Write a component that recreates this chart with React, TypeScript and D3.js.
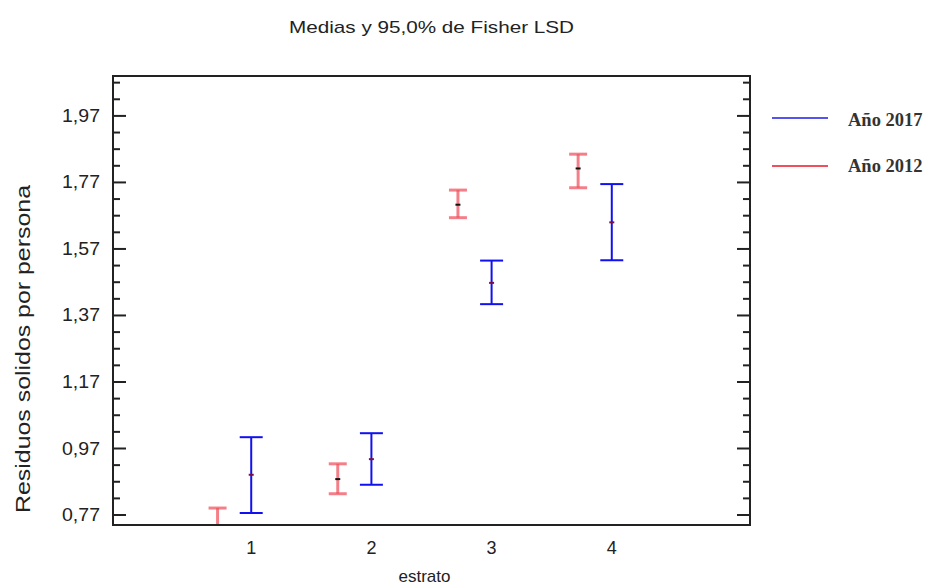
import * as React from 'react';
import * as d3 from 'd3';

// chart size
const W = 931
const H = 587
const margin = {top: 76, right: 181, bottom: 62, left: 113}

// groups on the x axis
const strata = [1, 2, 3, 4]

// Año 2017 (blue): means and LSD interval ends
const mean2017 = [0.891, 0.938, 1.468, 1.650]
const lower2017 = [0.776, 0.861, 1.404, 1.536]
const upper2017 = [1.004, 1.016, 1.535, 1.765]

// Año 2012 (red)
const mean2012 = [0.738, 0.878, 1.703, 1.812]
const lower2012 = [0.686, 0.834, 1.664, 1.754]
const upper2012 = [0.791, 0.924, 1.747, 1.855]

// axis ticks
const yMajor = [0.77, 0.97, 1.17, 1.37, 1.57, 1.77, 1.97]
const yMinor = d3.range(0.77, 2.09, 0.05)
const xDomain = [-0.15, 5.15]
const yDomain = [0.74, 2.09]

type Bar = { x: number, mean: number, lo: number, hi: number }

const makeBars = (means: number[], lo: number[], hi: number[], shift: number): Bar[] =>
    strata.map((s, i) => ({x: s + shift, mean: means[i], lo: lo[i], hi: hi[i]}))

const bars2017 = makeBars(mean2017, lower2017, upper2017, 0)
const bars2012 = makeBars(mean2012, lower2012, upper2012, -0.28)

const fmt = (v: number) => v.toFixed(2).replace('.', ',')

export default function App() {
    const x0 = margin.left, x1 = W - margin.right
    const y0 = H - margin.bottom, y1 = margin.top

    const x = d3.scaleLinear().domain(xDomain).range([x0, x1])
    const y = d3.scaleLinear().domain(yDomain).range([y0, y1])

    const sans = '"Liberation Sans", Arial, sans-serif'
    const serif = '"Liberation Serif", "Times New Roman", serif'

    const isMajor = (v: number) => yMajor.some(m => Math.abs(m - v) < 1e-6)

    const errorBar = (b: Bar, i: number, color: string, width: number, cap: number, opacity: number, dot: string) => (
        <g key={i}>
            <g stroke={color} strokeWidth={width} strokeOpacity={opacity} fill="none">
                <line x1={x(b.x)} x2={x(b.x)} y1={y(b.lo)} y2={y(b.hi)} />
                <line x1={x(b.x) - cap / 2} x2={x(b.x) + cap / 2} y1={y(b.hi)} y2={y(b.hi)} />
                <line x1={x(b.x) - cap / 2} x2={x(b.x) + cap / 2} y1={y(b.lo)} y2={y(b.lo)} />
            </g>
            <line x1={x(b.x) - 2.5} x2={x(b.x) + 2.5} y1={y(b.mean)} y2={y(b.mean)} stroke={dot} strokeWidth={2} />
        </g>
    )

    return (
        <svg width={W} height={H} style={{position: 'absolute', left: 0, top: 0, background: '#fff'}}>
            <defs>
                <clipPath id="plot">
                    <rect x={x0} y={y1} width={x1 - x0} height={y0 - y1} />
                </clipPath>
            </defs>

            {/* title */}
            <text x={(x0 + x1) / 2} y={33} textAnchor="middle" fontFamily={sans} fontSize={17}
                  fill="#222" textLength={285} lengthAdjust="spacingAndGlyphs">
                Medias y 95,0% de Fisher LSD
            </text>

            {/* y ticks, both sides, pointing inward */}
            <g stroke="#222" strokeWidth={2}>
                {yMinor.map((v, i) => {
                    const len = isMajor(v) ? 13 : 7
                    return (
                        <g key={i}>
                            <line x1={x0} x2={x0 + len} y1={y(v)} y2={y(v)} />
                            <line x1={x1} x2={x1 - len} y1={y(v)} y2={y(v)} />
                        </g>
                    )
                })}
            </g>

            {/* y tick labels */}
            {yMajor.map((v, i) => (
                <text key={i} x={x0 - 13} y={y(v) + 6} textAnchor="end" fontFamily={sans}
                      fontSize={18} fill="#222" textLength={38} lengthAdjust="spacingAndGlyphs">{fmt(v)}</text>
            ))}

            {/* x tick labels */}
            {strata.map(s => (
                <text key={s} x={x(s)} y={554} textAnchor="middle" fontFamily={sans}
                      fontSize={18} fill="#222">{s}</text>
            ))}

            {/* axis titles */}
            <text x={(x0 + x1) / 2 - 7} y={582} textAnchor="middle" fontFamily={sans} fontSize={17}
                  fill="#222">estrato</text>
            <text transform={`translate(30,${(185 + 513) / 2}) rotate(-90)`} textAnchor="middle"
                  fontFamily={sans} fontSize={20} fill="#222" textLength={328}
                  lengthAdjust="spacingAndGlyphs">Residuos solidos por persona</text>

            {/* error bars */}
            <g clipPath="url(#plot)">
                {bars2012.map((b, i) => errorBar(b, i, '#ee4f5c', 3, 18, 0.72, '#111'))}
                {bars2017.map((b, i) => errorBar(b, i, '#1010f0', 2, 23, 1, '#7a1040'))}
            </g>

            {/* frame */}
            <rect x={x0} y={y1} width={x1 - x0} height={y0 - y1} fill="none" stroke="#222" strokeWidth={2} />

            {/* legend */}
            <g>
                <line x1={772} x2={828} y1={118} y2={118} stroke="#5555ee" strokeWidth={2} />
                <text x={848} y={126} fontFamily={serif} fontSize={18.5} fontWeight="bold" fill="#333">Año 2017</text>
                <line x1={772} x2={828} y1={166} y2={166} stroke="#f0505c" strokeWidth={2} />
                <text x={848} y={172} fontFamily={serif} fontSize={18.5} fontWeight="bold" fill="#333">Año 2012</text>
            </g>
        </svg>
    )
}
